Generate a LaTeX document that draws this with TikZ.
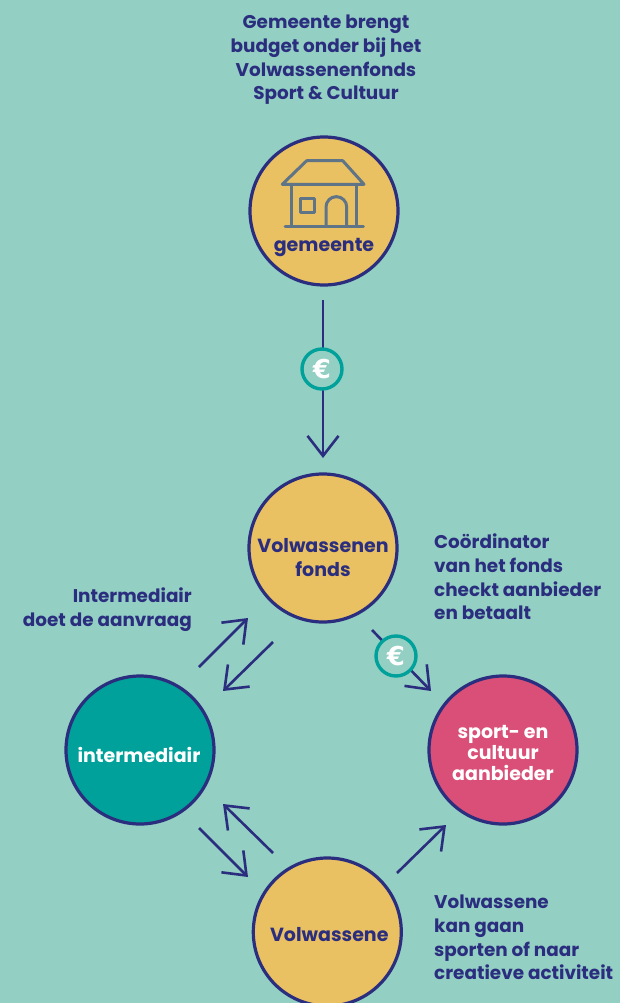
\documentclass[tikz,border=0pt]{standalone}
\usepackage{fontspec}
\setmainfont{Poppins}
\newfontfamily\eurofont{DejaVu Sans}
\usetikzlibrary{arrows.meta}
\definecolor{bg}{HTML}{93CFC3}
\definecolor{navy}{HTML}{2B2E7E}
\definecolor{gold}{HTML}{E9C062}
\definecolor{tealc}{HTML}{00A19A}
\definecolor{pinkc}{HTML}{D94F78}
\definecolor{slatec}{HTML}{5F7487}
\newcommand{\disctext}[2]{\raisebox{-#1pt}[0pt][0pt]{\begin{tabular}{@{}c@{}}#2\end{tabular}}}
\tikzset{
  disc/.style={circle,draw=navy,line width=3.2pt,minimum size=148pt,inner sep=0pt,align=center,font=\fontsize{19}{20.5}\selectfont\bfseries},
  yellowdisc/.style={disc,fill=gold,text=navy},
  euro/.style={circle,draw=tealc,fill=bg,line width=3.4pt,minimum size=40pt,inner sep=0pt,text=white,font=\eurofont\fontsize{26}{26}\selectfont\bfseries},
  flow/.style={draw=navy,line width=2.6pt,-{Straight Barb[length=20pt,width=31pt,line width=2.6pt]}},
  note/.style={text=navy,font=\fontsize{18.4}{23.6}\selectfont\bfseries,inner sep=0pt},
  house/.style={draw=slatec,line width=3pt,line cap=round,line join=round}
}
\begin{document}
\begin{tikzpicture}[x=1pt,y=-1pt]
\useasboundingbox[fill=bg] (0,0) rectangle (620,1003);
\node[yellowdisc] (gem) at (324,211) {};
\draw[house] (282.3,184.3) -- (306.7,160.7) -- (342.7,160.7) -- (364,184.3) -- cycle;
\draw[house] (291,184.3) -- (291,226) (356,184.3) -- (356,226) (285,226) -- (363.3,226);
\draw[house] (300.7,198.7) rectangle (314.7,212.7);
\draw[house] (326,226) -- (326,207) arc[start angle=180,end angle=0,radius=10.35pt] -- (346.7,226);
\node[text=navy,font=\fontsize{19}{19}\selectfont\bfseries,inner sep=0pt] (gemlabel) at (324,248) {gemeente};
\node[yellowdisc] (fonds) at (323,548) {\disctext{16.8}{Volwassenen\\[3.5pt]fonds}};
\node[disc,fill=tealc,text=white] (inter) at (140,750) {\disctext{11.8}{\hspace{-2pt}intermediair}};
\node[disc,fill=pinkc,text=white] (sport) at (503,750) {\disctext{9.8}{sport- en\hspace{5pt}\\cultuur\hspace{4pt}\\aanbieder}};
\node[yellowdisc] (volw) at (327.3,932) {\disctext{9.8}{\hspace{4pt}Volwassene}};
\coordinate (a1) at (323,300); \coordinate (a2) at (323,458);
\coordinate (b1) at (372,630); \coordinate (b2) at (431,691);
\coordinate (c1) at (199,667); \coordinate (c2) at (248,618);
\coordinate (d1) at (273,642); \coordinate (d2) at (223,691);
\coordinate (e1) at (273,853); \coordinate (e2) at (223,804);
\coordinate (f1) at (199,828); \coordinate (f2) at (248,877);
\coordinate (g1) at (397,873); \coordinate (g2) at (446,825);
\draw[flow] (a1) -- (a2);
\draw[flow] (b1) -- (b2);
\draw[flow] (c1) -- (c2);
\draw[flow] (d1) -- (d2);
\draw[flow] (e1) -- (e2);
\draw[flow] (f1) -- (f2);
\draw[flow] (g1) -- (g2);
\node[euro] (euro1) at (322,369) {€};
\node[euro] (euro2) at (396,656) {€};
\node[note,align=center,anchor=north] (t1) at (326,15) {Gemeente brengt\\budget onder bij het\\Volwassenenfonds\\Sport \& Cultuur};
\node[note,align=left,anchor=north west] (t2) at (434,534) {Coördinator\\van het fonds\\checkt aanbieder\\en betaalt};
\node[note,align=right,anchor=north east] (t3) at (192,588) {Intermediair\\doet de aanvraag};
\node[note,align=left,anchor=north west] (t4) at (434,895) {Volwassene\\kan gaan\\sporten of naar\\creatieve activiteit};
\end{tikzpicture}
\end{document}
